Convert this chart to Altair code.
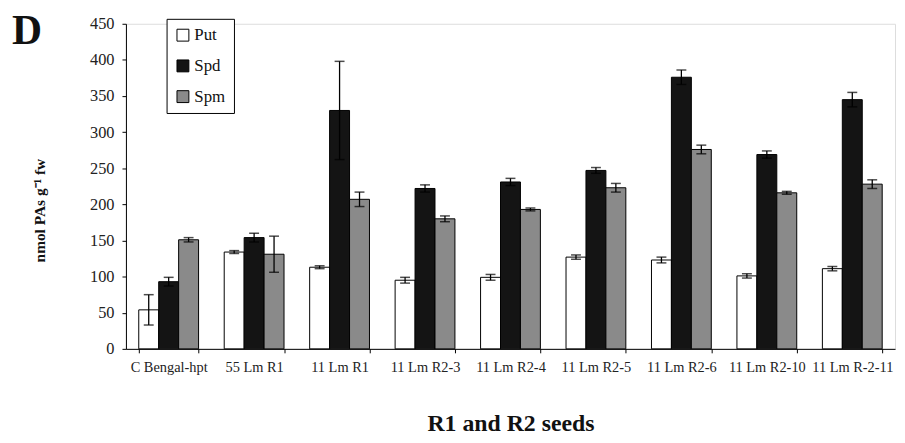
import altair as alt
import pandas as pd

categories = ["C Bengal-hpt", "55 Lm R1", "11 Lm R1", "11 Lm R2-3", "11 Lm R2-4",
              "11 Lm R2-5", "11 Lm R2-6", "11 Lm R2-10", "11 Lm R-2-11"]
series = ["Put", "Spd", "Spm"]
put = [54, 134, 113, 95, 99, 127, 123, 101, 111]
spd = [93, 154, 330, 222, 231, 247, 376, 269, 345]
spm = [151, 131, 207, 180, 193, 223, 276, 216, 228]
put_err = [21, 2, 2, 4, 4, 3, 4, 3, 3]
spd_err = [6, 6, 68, 5, 5, 4, 10, 5, 10]
spm_err = [3, 25, 10, 4, 2, 6, 6, 2, 6]
y_ticks = [0, 50, 100, 150, 200, 250, 300, 350, 400, 450]

rows = []
for name, vals, errs in [("Put", put, put_err), ("Spd", spd, spd_err), ("Spm", spm, spm_err)]:
    for c, v, e in zip(categories, vals, errs):
        rows.append({"cat": c, "series": name, "value": v, "lo": v - e, "hi": v + e})
df = pd.DataFrame(rows)

FONT = "Liberation Serif"

x_enc = alt.X("cat:N", sort=categories,
              scale=alt.Scale(paddingInner=0.3, paddingOuter=0.15),
              axis=alt.Axis(title="R1 and R2 seeds", labelAngle=0, tickBand="extent",
                            labelFontSize=14.5, labelFont=FONT, labelColor="#222",
                            titleFont=FONT, titleFontSize=24, titleFontWeight="bold",
                            titlePadding=38, labelPadding=8, tickSize=4,
                            domainColor="black", tickColor="black", titleColor="#111"))
y_scale = alt.Scale(domain=[0, 450])
y_axis = alt.Axis(values=y_ticks, title="nmol PAs g\u207b\u00b9 fw", grid=False,
                  labelOverlap=False, labelFont=FONT, labelFontSize=16.5, labelColor="#222",
                  titleFont=FONT, titleFontSize=15.5, titleFontWeight="bold",
                  titlePadding=42, labelPadding=8, tickSize=4, titleY=188,
                  domainColor="black", tickColor="black", titleColor="#111")
xoff = alt.XOffset("series:N", sort=series, scale=alt.Scale(paddingInner=0, paddingOuter=0))
color = alt.Color("series:N", sort=series,
                  scale=alt.Scale(domain=series, range=["white", "#141414", "#8a8a8a"]),
                  legend=alt.Legend(title=None, orient="none", legendX=41, legendY=-5,
                                    symbolType="square", symbolSize=144,
                                    symbolStrokeColor="black", symbolStrokeWidth=1,
                                    labelFont=FONT, labelFontSize=17, labelColor="#111",
                                    rowPadding=13, padding=8, strokeColor="black",
                                    fillColor="white", labelOffset=3))

bars = alt.Chart(df).mark_bar(stroke="black", strokeWidth=1).encode(
    x=x_enc, xOffset=xoff,
    y=alt.Y("value:Q", scale=y_scale, axis=y_axis),
    color=color,
)

rules = alt.Chart(df).mark_rule(color="black", strokeWidth=1.3).encode(
    x=alt.X("cat:N", sort=categories), xOffset=xoff,
    y=alt.Y("lo:Q", scale=y_scale, axis=y_axis), y2="hi:Q")
caps_lo = alt.Chart(df).mark_tick(color="black", thickness=1.5, size=10).encode(
    x=alt.X("cat:N", sort=categories), xOffset=xoff,
    y=alt.Y("lo:Q", scale=y_scale, axis=y_axis))
caps_hi = alt.Chart(df).mark_tick(color="black", thickness=1.5, size=10).encode(
    x=alt.X("cat:N", sort=categories), xOffset=xoff,
    y=alt.Y("hi:Q", scale=y_scale, axis=y_axis))

panel_label = alt.Chart(pd.DataFrame({"t": ["D"]})).mark_text(
    font=FONT, fontSize=42, fontWeight="bold", color="#111", align="left",
    baseline="alphabetic").encode(text="t:N", x=alt.value(-115), y=alt.value(20))

chart = alt.layer(bars, rules, caps_lo, caps_hi, panel_label).properties(
    width=776, height=328,
    autosize=alt.AutoSizeParams(type="none"),
    padding={"left": 119, "top": 14, "right": 2, "bottom": 85},
).configure_view(stroke=None).configure(background="white")

chart.save("out.html", embed_options={"renderer": "svg", "actions": False})
